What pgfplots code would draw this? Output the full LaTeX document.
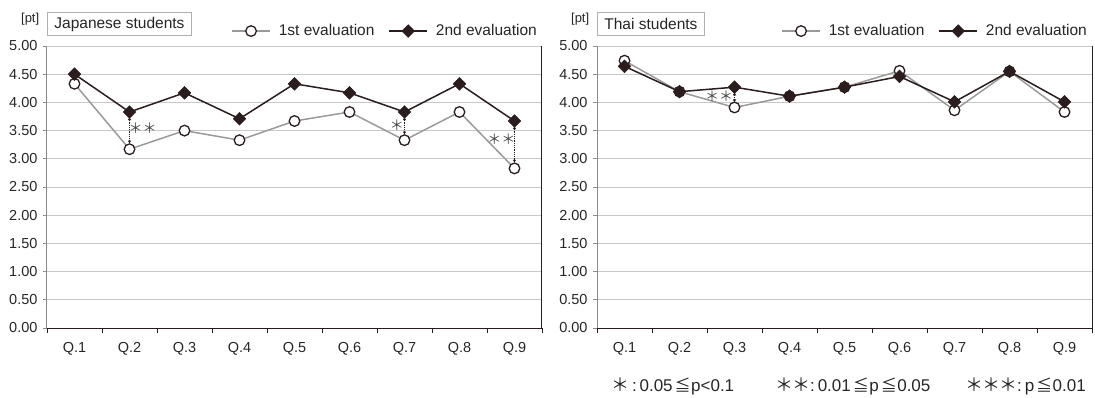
\documentclass[border=0pt]{standalone}
\usepackage{pgfplots}
\usepackage{pgfplotstable}
\pgfplotsset{compat=1.18}
\usetikzlibrary{arrows.meta}
\usepackage{fontspec}
\setmainfont{Liberation Sans}
\newfontfamily\cjk{Noto Sans CJK JP}
\definecolor{dk}{HTML}{2B1D1D}
\definecolor{ln1}{HTML}{9A9A9A}
\definecolor{grd}{HTML}{C8C8C8}
\definecolor{txt}{HTML}{262626}
\definecolor{yax}{HTML}{8C8C8C}
\definecolor{box}{HTML}{B0B0B0}

\pgfplotstableread{
q first second
1 4.33 4.50
2 3.17 3.83
3 3.50 4.17
4 3.33 3.71
5 3.67 4.33
6 3.83 4.17
7 3.33 3.83
8 3.83 4.33
9 2.83 3.67
}\jpdata
\pgfplotstableread{
q first second
1 4.74 4.64
2 4.19 4.19
3 3.91 4.27
4 4.11 4.11
5 4.27 4.27
6 4.56 4.46
7 3.86 4.01
8 4.55 4.55
9 3.83 4.01
}\thdata

\newcommand{\st}{{\cjk\fontsize{18}{18}\selectfont ＊}}
\newcommand{\leqq}{\hspace{2pt}{\cjk\fontsize{16}{16}\selectfont ≦}\hspace{0.5pt}}

\tikzset{
 sig/.style={dk, densely dotted, line width=0.8pt, {Latex[length=3pt,width=3.5pt]}-{Latex[length=3pt,width=3.5pt]}},
 star/.style={text=txt!85, font={\cjk\fontsize{14}{14}\selectfont}, inner sep=0pt},
 ttl/.style={draw=box, line width=0.8pt, anchor=south west, font=\fontsize{15.5}{18}\selectfont, text=txt, inner xsep=7pt, minimum height=23pt},
 unit/.style={font=\fontsize{13}{15}\selectfont, text=txt},
 foot/.style={anchor=base west, font=\fontsize{17}{18}\selectfont, text=txt, inner sep=0pt},
}

\pgfplotsset{
 panel/.style={
  scale only axis, width=495pt, height=282pt,
  xmin=0.5, xmax=9.5, ymin=0, ymax=5,
  axis x line*=bottom, axis y line*=left,
  x axis line style={dk, line width=1pt, -},
  y axis line style={yax, line width=1pt, -},
  xtick={1,2,3,4,5,6,7,8,9},
  xticklabels={Q.1,Q.2,Q.3,Q.4,Q.5,Q.6,Q.7,Q.8,Q.9},
  major x tick style={draw=none},
  minor xtick={0.5,1.5,2.5,3.5,4.5,5.5,6.5,7.5,8.5,9.5},
  minor x tick style={dk, line width=0.8pt},
  minor tick length=5pt,
  ytick={0,0.5,1,1.5,2,2.5,3,3.5,4,4.5,5},
  major y tick style={yax, line width=0.8pt},
  major tick length=4pt,
  tick align=outside,
  ymajorgrids, grid style={grd, line width=1pt},
  /pgf/number format/assume math mode=true,
  yticklabel style={/pgf/number format/.cd, fixed, fixed zerofill, precision=2, /tikz/.cd, font=\fontsize{14.5}{16}\selectfont, text=txt, xshift=-2pt},
  xticklabel style={font=\fontsize{14.5}{16}\selectfont, text=txt, yshift=-7pt},
  legend style={at={(1,1.053)}, anchor=east, draw=none, fill=none, legend columns=2,
    font=\fontsize{15.5}{18}\selectfont, text=txt,
    /tikz/every odd column/.append style={column sep=6pt},
    /tikz/every even column/.append style={column sep=12pt}},
  legend image code/.code={\draw[mark repeat=2, mark phase=2] plot coordinates {(0pt,0pt) (19pt,0pt) (38pt,0pt)};},
  clip=false,
 },
 s1/.style={ln1, line width=1.5pt, mark=*, mark size=5.3pt, mark options={draw=dk, fill=white, line width=1.3pt}},
 s2/.style={dk, line width=1.5pt, mark=square*, mark size=4.5pt, mark options={rotate=45, fill=dk, draw=dk, line width=0.5pt}},
}

\begin{document}
\begin{tikzpicture}
\path[use as bounding box] (0,0) rectangle (1095pt,-397pt);
\begin{axis}[panel, at={(47pt,-328pt)}, anchor=south west]
\addplot[s1] table[x=q, y=first] {\jpdata};
\addlegendentry{1st evaluation}
\addplot[s2] table[x=q, y=second] {\jpdata};
\addlegendentry{2nd evaluation}
\draw[dk, line width=1pt] (rel axis cs:1,0) -- (rel axis cs:1,1);
\draw[sig] (axis cs:2,3.74) -- (axis cs:2,3.27);
\node[star] at (axis cs:2.24,3.54) {＊＊};
\draw[sig] (axis cs:7,3.74) -- (axis cs:7,3.43);
\node[star] at (axis cs:6.86,3.59) {＊};
\draw[sig] (axis cs:9,3.58) -- (axis cs:9,2.93);
\node[star] at (axis cs:8.76,3.35) {＊＊};
\node[ttl] at (axis description cs:0,1.035) {Japanese students};
\node[unit] at (axis description cs:-0.034,1.096) {[pt]};
\end{axis}
\begin{axis}[panel, at={(597pt,-328pt)}, anchor=south west]
\addplot[s1] table[x=q, y=first] {\thdata};
\addlegendentry{1st evaluation}
\addplot[s2] table[x=q, y=second] {\thdata};
\addlegendentry{2nd evaluation}
\draw[dk, line width=1pt] (rel axis cs:1,0) -- (rel axis cs:1,1);
\draw[sig] (axis cs:3,4.18) -- (axis cs:3,4.0);
\node[star] at (axis cs:2.72,4.11) {＊＊};
\node[ttl] at (axis description cs:0,1.035) {Thai students};
\node[unit] at (axis description cs:-0.034,1.096) {[pt]};
\end{axis}
\node[foot] at (611pt,-391pt) {\st\,:\,0.05\leqq p<0.1};
\node[foot] at (775pt,-391pt) {\st\hspace{-1pt}\st:\,0.01\leqq p\leqq 0.05};
\node[foot] at (965pt,-391pt) {\st\hspace{-1pt}\st\hspace{-1pt}\st:\,p\leqq 0.01};
\end{tikzpicture}
\end{document}
